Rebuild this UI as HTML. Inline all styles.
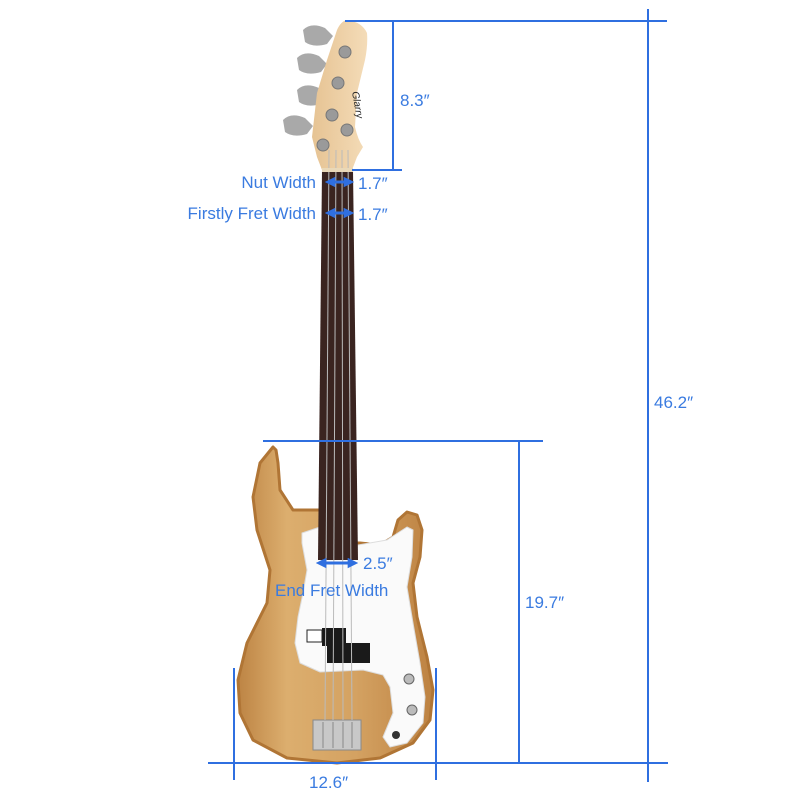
<!DOCTYPE html>
<html><head><meta charset="utf-8"><style>
html,body{margin:0;padding:0;background:#fff;width:800px;height:800px;overflow:hidden}
text{font-family:"Liberation Sans","DejaVu Sans",sans-serif;fill:#3a7be0;font-size:17px}
</style></head><body>
<svg width="800" height="800" viewBox="0 0 800 800" xmlns="http://www.w3.org/2000/svg">
<defs>
<linearGradient id="wood" x1="0" y1="0" x2="1" y2="0">
<stop offset="0" stop-color="#bd8444"/><stop offset="0.25" stop-color="#dcae6e"/><stop offset="0.6" stop-color="#d4a262"/><stop offset="1" stop-color="#bd8242"/>
</linearGradient>
<linearGradient id="head" x1="0" y1="0" x2="1" y2="0">
<stop offset="0" stop-color="#e6c393"/><stop offset="1" stop-color="#f4dcb8"/>
</linearGradient>
<marker id="ah" viewBox="0 0 10 10" refX="7" refY="5" markerWidth="3.5" markerHeight="3.5" orient="auto-start-reverse"><path d="M0,0 L10,5 L0,10 z" fill="#2f6fe0"/></marker>
</defs>
<g fill="#a9a9a9">
<path d="M303,30 q8,-8 22,-2 l8,8 l-6,8 q-14,4 -22,-2 z"/>
<path d="M297,58 q8,-8 22,-2 l8,8 l-6,8 q-14,4 -22,-2 z"/>
<path d="M297,90 q8,-8 22,-2 l8,8 l-6,8 q-14,4 -22,-2 z"/>
<path d="M283,120 q8,-8 22,-2 l8,8 l-6,8 q-14,4 -22,-2 z"/>
</g>
<path d="M347,20 Q362,22 367,33 Q368,45 365,60 L357,93 L355,127 Q358,140 363,147 L357,157 L352,170 L322,170 L317,157 L312,137 L317,93 L327,60 L337,30 Q341,21 347,20 z" fill="url(#head)"/>
<g fill="#9a9a9a" stroke="#777" stroke-width="1">
<circle cx="345" cy="52" r="6"/><circle cx="338" cy="83" r="6"/><circle cx="332" cy="115" r="6"/><circle cx="323" cy="145" r="6"/><circle cx="347" cy="130" r="6"/>
</g>
<text x="352" y="92" transform="rotate(80 352 92)" style="font-size:10px;fill:#222;font-style:italic">Glarry</text>
<path d="M273,447 L260,463 L253,497 L257,530 L270,570 L267,603 L247,643 L238,680 L240,713 L253,740 L287,758 L337,763 L380,758 L413,743 L430,720 L433,690 L427,657 L417,617 L413,583 L420,557 L422,530 L417,515 L407,512 L398,520 L393,537 L380,545 L360,543 L320,543 L320,510 L293,510 L280,490 L278,463 L276,450 z" fill="url(#wood)" stroke="#b07535" stroke-width="3" stroke-linejoin="round"/>
<path d="M302,533 L320,527 L358,545 L387,540 L407,527 L413,530 L412,557 L407,587 L413,623 L420,663 L425,697 L423,723 L407,743 L390,747 L383,737 L393,713 L390,687 L383,675 L363,670 L320,672 L300,663 L295,643 L298,617 L303,593 L307,570 L302,543 z" fill="#fafafa" stroke="#ddd" stroke-linejoin="round"/>
<rect x="322" y="628" width="24" height="18" fill="#1a1a1a"/>
<rect x="327" y="643" width="43" height="20" fill="#1a1a1a"/>
<path d="M307,630 h15 v12 h-15 z" fill="#fff" stroke="#222"/>
<circle cx="409" cy="679" r="5" fill="#bbb" stroke="#666"/><circle cx="412" cy="710" r="5" fill="#bbb" stroke="#666"/>
<circle cx="396" cy="735" r="4" fill="#333"/>
<rect x="313" y="720" width="48" height="30" fill="#c8c8c8" stroke="#888"/>
<g stroke="#888"><line x1="323" y1="722" x2="323" y2="748"/><line x1="333" y1="722" x2="333" y2="748"/><line x1="343" y1="722" x2="343" y2="748"/><line x1="352" y1="722" x2="352" y2="748"/></g>
<path d="M322,170 L353,170 L358,560 L318,560 z" fill="#3a2420"/>
<g stroke="#bbb" stroke-width="1">
<line x1="329" y1="150" x2="325" y2="720"/><line x1="336" y1="150" x2="333" y2="720"/><line x1="342" y1="150" x2="343" y2="720"/><line x1="348" y1="150" x2="352" y2="720"/>
</g>
<rect x="322" y="168" width="31" height="4" fill="#e9d8b8"/>
<g stroke="#2f6fe0" stroke-width="2" fill="none">
<line x1="345" y1="21" x2="667" y2="21"/>
<line x1="648" y1="9" x2="648" y2="782"/>
<line x1="393" y1="21" x2="393" y2="170"/>
<line x1="352" y1="170" x2="402" y2="170"/>
<line x1="263" y1="441" x2="543" y2="441"/>
<line x1="519" y1="441" x2="519" y2="763"/>
<line x1="208" y1="763" x2="668" y2="763"/>
<line x1="234" y1="668" x2="234" y2="780"/>
<line x1="436" y1="668" x2="436" y2="780"/>
</g>
<g stroke="#2f6fe0" stroke-width="3" fill="none">
<line x1="328" y1="182" x2="351" y2="182" marker-start="url(#ah)" marker-end="url(#ah)"/>
<line x1="328" y1="213" x2="351" y2="213" marker-start="url(#ah)" marker-end="url(#ah)"/>
<line x1="319" y1="563" x2="355" y2="563" marker-start="url(#ah)" marker-end="url(#ah)"/>
</g>
<text x="400" y="106">8.3″</text>
<text x="654" y="408">46.2″</text>
<text x="525" y="608">19.7″</text>
<text x="309" y="788">12.6″</text>
<text x="316" y="188" text-anchor="end">Nut Width</text>
<text x="316" y="219" text-anchor="end">Firstly Fret Width</text>
<text x="358" y="189">1.7″</text>
<text x="358" y="220">1.7″</text>
<text x="363" y="569">2.5″</text>
<text x="275" y="596">End Fret Width</text>
</svg>
</body></html>
